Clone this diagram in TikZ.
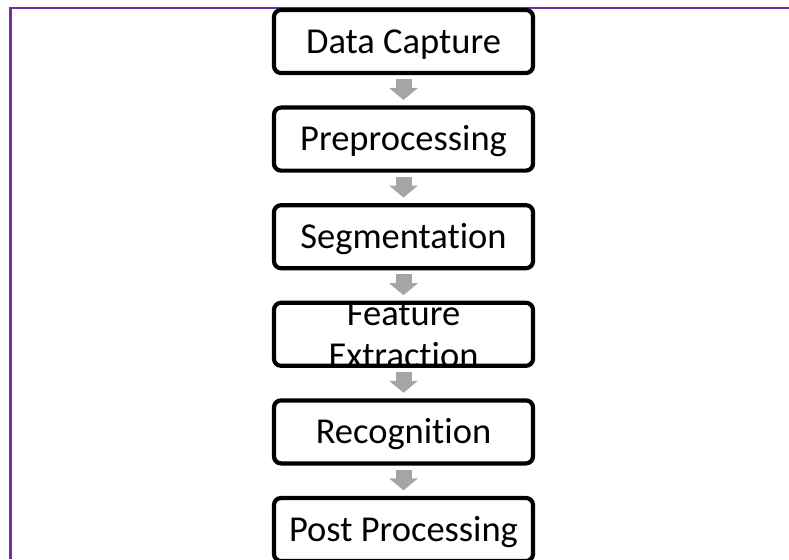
\documentclass[tikz,border=0pt]{standalone}
\usepackage{fontspec}
\setmainfont{Carlito}[Ligatures={NoCommon,NoContextual}]
\usetikzlibrary{arrows.meta}
\definecolor{framepurple}{HTML}{7030A0}
\definecolor{arrowgray}{HTML}{A5A5A5}
\begin{document}
\begin{tikzpicture}[x=1pt,y=-1pt,
  stepbox/.style={draw=black, line width=4.2pt, rounded corners=7pt, fill=white,
    minimum width=259pt, minimum height=63pt, inner sep=0pt,
    font=\fontsize{36.5}{42}\selectfont, text height=23.5pt, text depth=0pt},
  steptext/.style={inner sep=0pt, anchor=base, font=\fontsize{36.5}{42}\selectfont},
  blockarrow/.style={draw=arrowgray, line width=16pt, -{Triangle[width=28pt,length=12pt]}}]
\useasboundingbox (0,0) rectangle (789,559);
\fill[white] (0,0) rectangle (789,559);
% frame
\coordinate (fr1) at (789,7.7);
\coordinate (fr2) at (10.5,7.7);
\coordinate (fr3) at (10.5,559);
\draw[framepurple, line width=2.3pt] (fr1) -- (fr2) -- (fr3);
% boxes
\node[stepbox] (b1) at (403.5,41.5) {Data Capture};
\node[stepbox] (b2) at (403.5,139.1) {Preprocessing};
\node[stepbox] (b3) at (403.5,236.7) {Segmentation};
\node[stepbox] (b4) at (403.5,334.3) {};
\node[steptext] (t4a) at (403.5,325.5) {Feature};
\node[steptext] (t4b) at (403.5,367.5) {Extraction};
\node[stepbox] (b5) at (403.5,431.9) {Recognition};
\node[stepbox] (b6) at (403.5,529.5) {Post Processing};
% arrows
\foreach \a/\b in {b1/b2,b2/b3,b3/b4,b4/b5,b5/b6}
  \draw[blockarrow] ([yshift=-4pt]\a.south) -- ([yshift=5.5pt]\b.north);
\end{tikzpicture}
\end{document}
